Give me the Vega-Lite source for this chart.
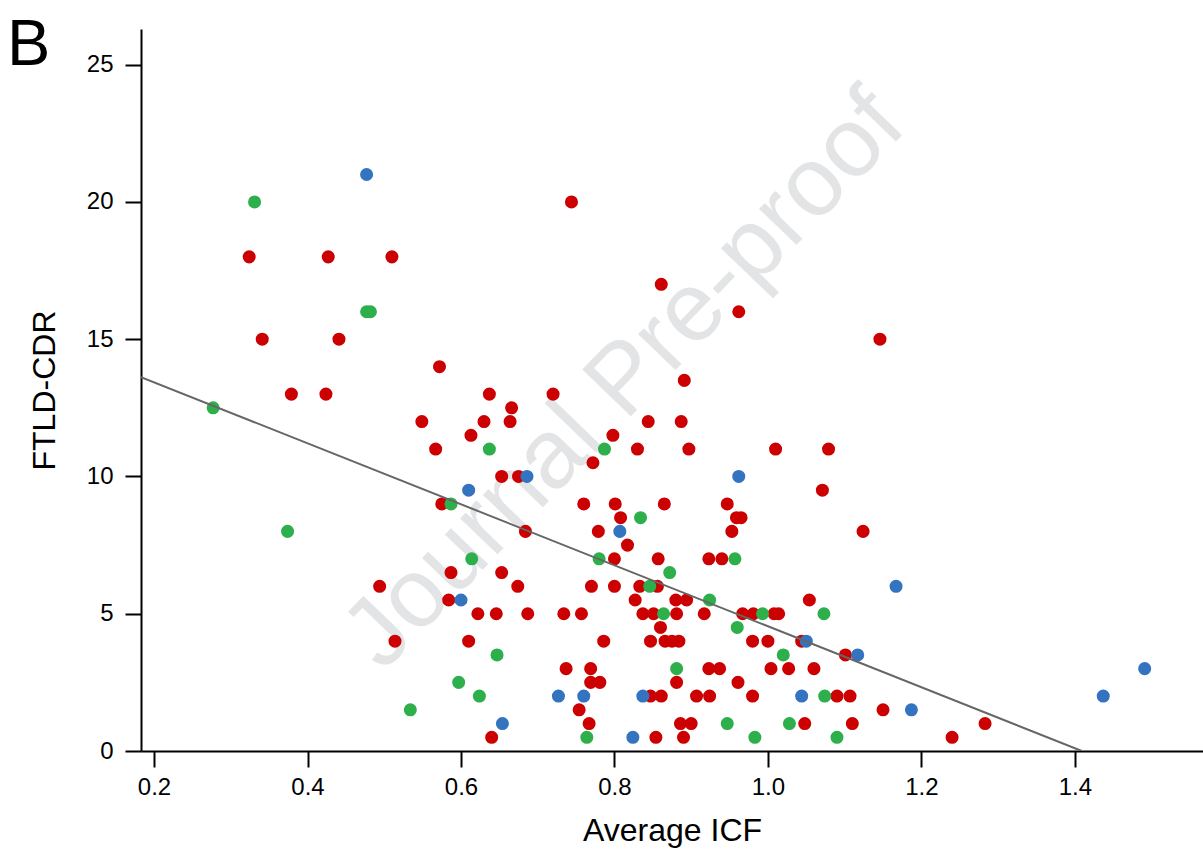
{
  "$schema": "https://vega.github.io/schema/vega-lite/v6.json",
  "width": 1062,
  "height": 722,
  "autosize": {"type": "none"},
  "padding": {"left": 141, "top": 29, "right": 0, "bottom": 104},
  "background": "white",
  "config": {"view": {"stroke": null}, "font": "Liberation Sans"},
  "datasets": {
    "pts": [
      {"x": 0.324, "y": 18, "group": "red"}, {"x": 0.427, "y": 18, "group": "red"}, {"x": 0.510, "y": 18, "group": "red"},
      {"x": 0.341, "y": 15, "group": "red"}, {"x": 0.441, "y": 15, "group": "red"}, {"x": 0.572, "y": 14, "group": "red"},
      {"x": 0.379, "y": 13, "group": "red"}, {"x": 0.424, "y": 13, "group": "red"},
      {"x": 0.744, "y": 20, "group": "red"}, {"x": 0.861, "y": 17, "group": "red"}, {"x": 0.962, "y": 16, "group": "red"},
      {"x": 1.146, "y": 15, "group": "red"}, {"x": 0.891, "y": 13.5, "group": "red"}, {"x": 0.637, "y": 13, "group": "red"},
      {"x": 0.720, "y": 13, "group": "red"}, {"x": 0.549, "y": 12, "group": "red"}, {"x": 0.494, "y": 6, "group": "red"},
      {"x": 0.514, "y": 4, "group": "red"}, {"x": 0.666, "y": 12.5, "group": "red"}, {"x": 0.630, "y": 12, "group": "red"},
      {"x": 0.664, "y": 12, "group": "red"}, {"x": 0.613, "y": 11.5, "group": "red"}, {"x": 0.567, "y": 11, "group": "red"},
      {"x": 0.772, "y": 10.5, "group": "red"}, {"x": 0.653, "y": 10, "group": "red"}, {"x": 0.675, "y": 10, "group": "red"},
      {"x": 0.575, "y": 9, "group": "red"}, {"x": 0.760, "y": 9, "group": "red"}, {"x": 0.684, "y": 8, "group": "red"},
      {"x": 0.779, "y": 8, "group": "red"}, {"x": 0.587, "y": 6.5, "group": "red"}, {"x": 0.653, "y": 6.5, "group": "red"},
      {"x": 0.844, "y": 12, "group": "red"}, {"x": 0.887, "y": 12, "group": "red"}, {"x": 0.798, "y": 11.5, "group": "red"},
      {"x": 0.830, "y": 11, "group": "red"}, {"x": 0.897, "y": 11, "group": "red"}, {"x": 1.010, "y": 11, "group": "red"},
      {"x": 0.801, "y": 9, "group": "red"}, {"x": 0.865, "y": 9, "group": "red"}, {"x": 0.947, "y": 9, "group": "red"},
      {"x": 0.808, "y": 8.5, "group": "red"}, {"x": 0.959, "y": 8.5, "group": "red"}, {"x": 0.965, "y": 8.5, "group": "red"},
      {"x": 0.953, "y": 8, "group": "red"}, {"x": 0.817, "y": 7.5, "group": "red"}, {"x": 0.800, "y": 7, "group": "red"},
      {"x": 0.857, "y": 7, "group": "red"}, {"x": 0.923, "y": 7, "group": "red"}, {"x": 0.940, "y": 7, "group": "red"},
      {"x": 1.079, "y": 11, "group": "red"}, {"x": 1.071, "y": 9.5, "group": "red"}, {"x": 1.124, "y": 8, "group": "red"},
      {"x": 0.674, "y": 6, "group": "red"}, {"x": 0.770, "y": 6, "group": "red"}, {"x": 0.584, "y": 5.5, "group": "red"},
      {"x": 0.622, "y": 5, "group": "red"}, {"x": 0.646, "y": 5, "group": "red"}, {"x": 0.687, "y": 5, "group": "red"},
      {"x": 0.734, "y": 5, "group": "red"}, {"x": 0.757, "y": 5, "group": "red"}, {"x": 0.610, "y": 4, "group": "red"},
      {"x": 0.786, "y": 4, "group": "red"}, {"x": 0.737, "y": 3, "group": "red"}, {"x": 0.769, "y": 3, "group": "red"},
      {"x": 0.769, "y": 2.5, "group": "red"}, {"x": 0.781, "y": 2.5, "group": "red"}, {"x": 0.754, "y": 1.5, "group": "red"},
      {"x": 0.767, "y": 1, "group": "red"}, {"x": 0.640, "y": 0.5, "group": "red"},
      {"x": 0.800, "y": 6, "group": "red"}, {"x": 0.833, "y": 6, "group": "red"}, {"x": 0.856, "y": 6, "group": "red"},
      {"x": 0.827, "y": 5.5, "group": "red"}, {"x": 0.880, "y": 5.5, "group": "red"}, {"x": 0.894, "y": 5.5, "group": "red"},
      {"x": 0.837, "y": 5, "group": "red"}, {"x": 0.851, "y": 5, "group": "red"}, {"x": 0.881, "y": 5, "group": "red"},
      {"x": 0.917, "y": 5, "group": "red"}, {"x": 0.967, "y": 5, "group": "red"}, {"x": 0.981, "y": 5, "group": "red"},
      {"x": 1.008, "y": 5, "group": "red"}, {"x": 1.014, "y": 5, "group": "red"}, {"x": 0.860, "y": 4.5, "group": "red"},
      {"x": 0.847, "y": 4, "group": "red"}, {"x": 0.866, "y": 4, "group": "red"}, {"x": 0.875, "y": 4, "group": "red"},
      {"x": 0.884, "y": 4, "group": "red"}, {"x": 0.980, "y": 4, "group": "red"}, {"x": 1.000, "y": 4, "group": "red"},
      {"x": 0.923, "y": 3, "group": "red"}, {"x": 0.937, "y": 3, "group": "red"}, {"x": 1.004, "y": 3, "group": "red"},
      {"x": 0.881, "y": 2.5, "group": "red"}, {"x": 0.961, "y": 2.5, "group": "red"}, {"x": 0.847, "y": 2, "group": "red"},
      {"x": 0.861, "y": 2, "group": "red"}, {"x": 0.907, "y": 2, "group": "red"}, {"x": 0.924, "y": 2, "group": "red"},
      {"x": 0.980, "y": 2, "group": "red"}, {"x": 0.886, "y": 1, "group": "red"}, {"x": 0.900, "y": 1, "group": "red"},
      {"x": 0.854, "y": 0.5, "group": "red"}, {"x": 0.890, "y": 0.5, "group": "red"},
      {"x": 1.054, "y": 5.5, "group": "red"}, {"x": 1.044, "y": 4, "group": "red"}, {"x": 1.101, "y": 3.5, "group": "red"},
      {"x": 1.027, "y": 3, "group": "red"}, {"x": 1.060, "y": 3, "group": "red"}, {"x": 1.090, "y": 2, "group": "red"},
      {"x": 1.107, "y": 2, "group": "red"}, {"x": 1.150, "y": 1.5, "group": "red"}, {"x": 1.048, "y": 1, "group": "red"},
      {"x": 1.110, "y": 1, "group": "red"}, {"x": 1.240, "y": 0.5, "group": "red"}, {"x": 1.283, "y": 1, "group": "red"},
      {"x": 0.331, "y": 20, "group": "green"}, {"x": 0.477, "y": 16, "group": "green"}, {"x": 0.482, "y": 16, "group": "green"},
      {"x": 0.277, "y": 12.5, "group": "green"}, {"x": 0.374, "y": 8, "group": "green"}, {"x": 0.534, "y": 1.5, "group": "green"},
      {"x": 0.637, "y": 11, "group": "green"}, {"x": 0.787, "y": 11, "group": "green"}, {"x": 0.587, "y": 9, "group": "green"},
      {"x": 0.780, "y": 7, "group": "green"}, {"x": 0.614, "y": 7, "group": "green"}, {"x": 0.834, "y": 8.5, "group": "green"},
      {"x": 0.957, "y": 7, "group": "green"}, {"x": 0.872, "y": 6.5, "group": "green"}, {"x": 0.647, "y": 3.5, "group": "green"},
      {"x": 0.597, "y": 2.5, "group": "green"}, {"x": 0.624, "y": 2, "group": "green"}, {"x": 0.764, "y": 0.5, "group": "green"},
      {"x": 0.846, "y": 6, "group": "green"}, {"x": 0.924, "y": 5.5, "group": "green"}, {"x": 0.864, "y": 5, "group": "green"},
      {"x": 0.993, "y": 5, "group": "green"}, {"x": 0.960, "y": 4.5, "group": "green"}, {"x": 1.020, "y": 3.5, "group": "green"},
      {"x": 0.881, "y": 3, "group": "green"}, {"x": 0.947, "y": 1, "group": "green"}, {"x": 0.983, "y": 0.5, "group": "green"},
      {"x": 1.073, "y": 5, "group": "green"}, {"x": 1.074, "y": 2, "group": "green"}, {"x": 1.028, "y": 1, "group": "green"},
      {"x": 1.090, "y": 0.5, "group": "green"},
      {"x": 0.477, "y": 21, "group": "blue"}, {"x": 0.686, "y": 10, "group": "blue"}, {"x": 0.610, "y": 9.5, "group": "blue"},
      {"x": 0.962, "y": 10, "group": "blue"}, {"x": 0.807, "y": 8, "group": "blue"}, {"x": 0.600, "y": 5.5, "group": "blue"},
      {"x": 0.727, "y": 2, "group": "blue"}, {"x": 0.760, "y": 2, "group": "blue"}, {"x": 0.654, "y": 1, "group": "blue"},
      {"x": 0.837, "y": 2, "group": "blue"}, {"x": 0.824, "y": 0.5, "group": "blue"}, {"x": 1.167, "y": 6, "group": "blue"},
      {"x": 1.050, "y": 4, "group": "blue"}, {"x": 1.117, "y": 3.5, "group": "blue"}, {"x": 1.044, "y": 2, "group": "blue"},
      {"x": 1.187, "y": 1.5, "group": "blue"}, {"x": 1.491, "y": 3, "group": "blue"}, {"x": 1.437, "y": 2, "group": "blue"}
    ],
    "fit": [
      {"x": 0.183, "y": 13.62},
      {"x": 1.409, "y": 0}
    ],
    "wm": [
      {"x": 0.814, "y": 13.5, "label": "Journal Pre-proof"}
    ],
    "panel": [
      {"x": 0.0084, "y": 25.0, "label": "B"}
    ]
  },
  "encoding": {
    "x": {
      "field": "x", "type": "quantitative",
      "scale": {"domain": [0.183, 1.567], "nice": false, "zero": false},
      "axis": {
        "title": "Average ICF", "values": [0.2, 0.4, 0.6, 0.8, 1.0, 1.2, 1.4], "format": ".1f",
        "grid": false, "domainColor": "black", "domainWidth": 2, "tickColor": "black", "tickWidth": 2, "tickSize": 16,
        "labelFontSize": 24, "labelColor": "black", "labelPadding": 8, "labelFlush": false,
        "titleFontSize": 32, "titleFontWeight": "normal", "titleColor": "black", "titlePadding": 16
      }
    },
    "y": {
      "field": "y", "type": "quantitative",
      "scale": {"domain": [0, 26.3], "nice": false, "zero": false},
      "axis": {
        "title": "FTLD-CDR", "values": [0, 5, 10, 15, 20, 25], "format": "d",
        "grid": false, "domainColor": "black", "domainWidth": 2, "tickColor": "black", "tickWidth": 2, "tickSize": 16,
        "labelFontSize": 24, "labelColor": "black", "labelPadding": 12, "labelFlush": false,
        "titleFontSize": 32, "titleFontWeight": "normal", "titleColor": "black", "titlePadding": 25
      }
    }
  },
  "layer": [
    {
      "data": {"name": "wm"},
      "mark": {"type": "text", "angle": 314, "fontSize": 98, "font": "Liberation Sans", "color": "#E3E4E6", "align": "center", "baseline": "middle"},
      "encoding": {"text": {"field": "label"}}
    },
    {
      "data": {"name": "pts"},
      "mark": {"type": "circle", "size": 170, "opacity": 1},
      "encoding": {
        "color": {
          "field": "group", "type": "nominal",
          "scale": {"domain": ["red", "green", "blue"], "range": ["#CC0000", "#2DAF4B", "#3373BF"]},
          "legend": null
        }
      }
    },
    {
      "data": {"name": "fit"},
      "mark": {"type": "line", "color": "#666666", "strokeWidth": 2, "clip": true},
      "encoding": {}
    },
    {
      "data": {"name": "panel"},
      "mark": {"type": "text", "fontSize": 65, "font": "Liberation Sans", "color": "black", "align": "left", "baseline": "alphabetic"},
      "encoding": {"text": {"field": "label"}}
    }
  ]
}
